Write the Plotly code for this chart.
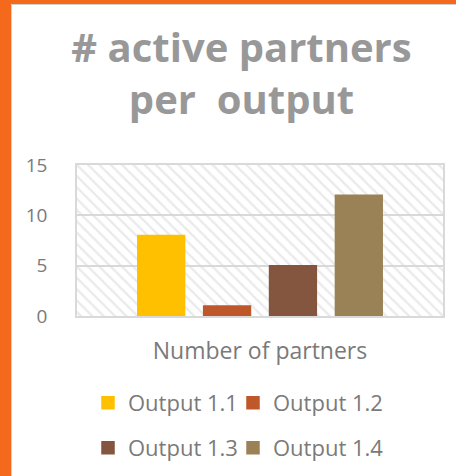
import plotly.graph_objects as go

categories = ["Number of partners"]
series_names = ["Output 1.1", "Output 1.2", "Output 1.3", "Output 1.4"]
series_values = [[8], [1], [5], [12]]
series_colors = ["#FFC000", "#BE582B", "#84553F", "#9B8256"]
y_ticks = [0, 5, 10, 15]

W, H = 456, 476
L, R, T, B = 77, 13, 165, 160
PW, PH = W - L - R, H - T - B


def px_x(p):
    return (p - L) / PW


def px_y(p):
    return (H - B - p) / PH


fig = go.Figure()

# hatched plot-area background
fig.add_trace(go.Bar(
    x=[0.5], y=[max(y_ticks)], width=[1], xaxis="x", yaxis="y",
    marker=dict(color="rgba(0,0,0,0)", line=dict(width=0),
                pattern=dict(shape="\\", fgcolor="#d6d6d6", bgcolor="rgba(0,0,0,0)",
                             size=8, solidity=0.3)),
    showlegend=False, hoverinfo="skip"))

for i, (name, vals, col) in enumerate(zip(series_names, series_values, series_colors)):
    fig.add_trace(go.Bar(
        x=categories, y=vals, name=name, xaxis="x2", yaxis="y2",
        marker=dict(color=col, line=dict(color=col, width=1.5)),
        legend="legend" if i < 2 else "legend2",
        legendwidth=100 if i % 2 == 0 else 140))

grey = "#7a7a7a"
fig.update_layout(
    width=W, height=H,
    margin=dict(l=L, r=R, t=T, b=B, autoexpand=False),
    paper_bgcolor="white", plot_bgcolor="white",
    font=dict(family="Open Sans", color=grey),
    title=dict(text="# active partners<br>per  output", x=241.5 / W, xanchor="center",
               xref="container", yref="container", y=1 - 62 / H, yanchor="top",
               font=dict(family="Open Sans", size=40, color="#989898", weight="bold")),
    barmode="group", bargap=0.28, bargroupgap=0.29,
    xaxis=dict(range=[0, 1], visible=True, showticklabels=False, showgrid=False,
               zeroline=False, showline=True, mirror=True, linecolor="#d9d9d9", linewidth=1.5,
               fixedrange=True),
    yaxis=dict(range=[0, 15], tickvals=y_ticks, showgrid=True, gridcolor="#d9d9d9", gridwidth=1.5,
               zeroline=False, showline=True, mirror=True, linecolor="#d9d9d9", linewidth=1.5,
               tickfont=dict(size=19, color=grey), ticklabelstandoff=24, ticks=""),
    xaxis2=dict(overlaying="x", side="bottom", type="category", showgrid=False,
                showticklabels=False, ticks="",
                title=dict(text="Number of partners", font=dict(size=23, color=grey), standoff=26)),
    yaxis2=dict(overlaying="y", range=[0, 15], visible=False),
    legend=dict(orientation="h", x=px_x(88), xanchor="left", y=px_y(403), yanchor="middle",
                font=dict(size=22, color=grey), bgcolor="rgba(0,0,0,0)"),
    legend2=dict(orientation="h", x=px_x(88), xanchor="left", y=px_y(448), yanchor="middle",
                 font=dict(size=22, color=grey), bgcolor="rgba(0,0,0,0)"),
    shapes=[
        dict(type="rect", xref="paper", yref="paper", x0=px_x(-2), x1=px_x(11),
             y0=px_y(H + 2), y1=px_y(-2), fillcolor="#F5691C", line=dict(width=0), layer="above"),
        dict(type="rect", xref="paper", yref="paper", x0=px_x(-2), x1=px_x(W + 2),
             y0=px_y(4), y1=px_y(-2), fillcolor="#F5691C", line=dict(width=0), layer="above"),
        dict(type="line", xref="paper", yref="paper", x0=px_x(11.5), x1=px_x(11.5),
             y0=px_y(H + 2), y1=px_y(4.5), line=dict(color="#d0d0d0", width=1), layer="above"),
        dict(type="line", xref="paper", yref="paper", x0=px_x(11.5), x1=px_x(W + 2),
             y0=px_y(4.5), y1=px_y(4.5), line=dict(color="#d0d0d0", width=1), layer="above"),
    ],
)

fig.write_html("out.html", config={"displayModeBar": False},
               post_script="document.body.style.margin='0';")
